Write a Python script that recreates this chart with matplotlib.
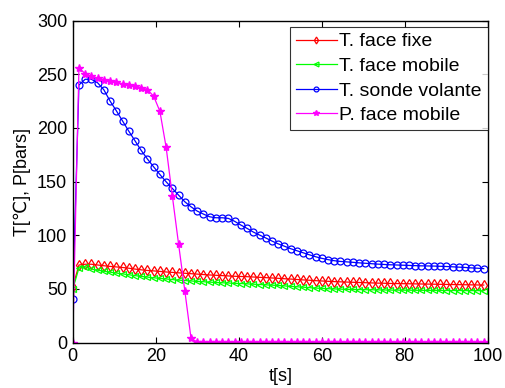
import numpy as np
import matplotlib
matplotlib.use("Agg")
import matplotlib.pyplot as plt

plt.rcParams["font.family"] = ["Liberation Sans", "DejaVu Sans"]

# ------------------------------------------
# Data (sampled every 1.5 s)
# ------------------------------------------

t = np.arange(0, 99.1, 1.5)

t_face_fixe = [
    51.5, 72.3, 73.0, 73.0, 72.3, 71.6, 71.0, 70.5, 70.0, 69.3,
    68.5, 67.8, 67.2, 66.8, 66.3, 65.8, 65.4, 65.0, 64.6, 64.2,
    63.8, 63.4, 63.0, 62.7, 62.4, 62.1, 61.8, 61.6, 61.4, 61.1,
    60.8, 60.5, 60.2, 59.9, 59.5, 59.2, 58.8, 58.4, 58.1, 57.7,
    57.4, 57.1, 56.8, 56.6, 56.4, 56.2, 56.0, 55.8, 55.6, 55.4,
    55.3, 55.1, 55.0, 54.9, 54.8, 54.7, 54.6, 54.5, 54.4, 54.3,
    54.2, 54.1, 54.0, 53.9, 53.8, 53.7, 53.6,
]

t_face_mobile = [
    49.5, 69.5, 70.5, 68.5, 67.5, 66.5, 65.6, 64.8, 64.0, 63.2,
    62.4, 61.7, 61.0, 60.4, 59.8, 59.3, 58.7, 58.2, 57.8, 57.4,
    57.0, 56.7, 56.3, 56.0, 55.7, 55.5, 55.2, 55.0, 54.7, 54.4,
    54.1, 53.8, 53.5, 53.2, 52.8, 52.4, 52.0, 51.6, 51.2, 50.8,
    50.5, 50.2, 50.0, 49.8, 49.6, 49.5, 49.4, 49.3, 49.2, 49.1,
    49.0, 48.9, 48.9, 48.8, 48.8, 48.7, 48.7, 48.6, 48.6, 48.6,
    48.5, 48.5, 48.5, 48.4, 48.4, 48.4, 48.3,
]

t_sonde_volante = [
    41.0, 240.0, 245.3, 245.3, 242.0, 235.5, 225.0, 216.0, 206.5, 197.0,
    188.0, 179.0, 171.0, 163.7, 156.6, 149.8, 143.6, 137.4, 131.2, 126.5,
    122.5, 119.7, 117.2, 116.3, 116.3, 115.7, 113.0, 109.5, 106.4, 103.0,
    100.2, 97.5, 94.6, 92.0, 89.8, 87.5, 85.6, 83.7, 81.8, 80.0,
    78.5, 77.3, 76.3, 75.6, 75.2, 74.8, 74.3, 73.9, 73.5, 73.1,
    72.8, 72.5, 72.3, 72.1, 71.9, 71.7, 71.5, 71.4, 71.3, 71.1,
    70.9, 70.6, 70.3, 70.0, 69.6, 69.3, 68.9,
]

p_face_mobile = [
    0.0, 256.0, 250.5, 248.0, 246.5, 245.0, 243.7, 242.8, 241.0, 240.0,
    239.0, 237.6, 235.7, 229.5, 215.5, 182.0, 136.5, 91.8, 48.4, 4.0,
    0.5, 0.5, 0.5, 0.5, 0.5, 0.5, 0.5, 0.5, 0.5, 0.5,
    0.5, 0.5, 0.5, 0.5, 0.5, 0.5, 0.5, 0.5, 0.5, 0.5,
    0.5, 0.5, 0.5, 0.5, 0.5, 0.5, 0.5, 0.5, 0.5, 0.5,
    0.5, 0.5, 0.5, 0.5, 0.5, 0.5, 0.5, 0.5, 0.5, 0.5,
    0.5, 0.5, 0.5, 0.5, 0.5, 0.5, 0.5,
]

# ------------------------------------------
# Graph
# ------------------------------------------

fig = plt.figure(figsize=(5.05, 3.88), dpi=100)
ax = fig.add_axes([0.144, 0.117, 0.822, 0.830])

ax.plot(t, t_face_fixe, color="red", marker="d", markersize=5,
        markerfacecolor="none", markeredgewidth=0.9, linewidth=0.9,
        label="T. face fixe")
ax.plot(t, t_face_mobile, color="lime", marker="<", markersize=5,
        markerfacecolor="none", markeredgewidth=0.9, linewidth=0.9,
        label="T. face mobile")
ax.plot(t, t_sonde_volante, color="blue", marker="o", markersize=5,
        markerfacecolor="none", markeredgewidth=0.9, linewidth=0.9,
        label="T. sonde volante")
ax.plot(t, p_face_mobile, color="magenta", marker="*", markersize=6,
        linewidth=0.9, label="P. face mobile")

ax.set_xlim(0, 100)
ax.set_ylim(0, 300)
ax.set_xticks([0, 20, 40, 60, 80, 100])
ax.set_yticks([0, 50, 100, 150, 200, 250, 300])

ax.tick_params(direction="in", top=True, right=True, length=4,
               labelsize=13, pad=4)
for s in ax.spines.values():
    s.set_linewidth(1.0)

ax.set_xlabel("t[s]", fontsize=13, labelpad=2)
ax.set_ylabel("T[℃], P[bars]", fontsize=13, labelpad=4)

leg = ax.legend(loc="upper right", bbox_to_anchor=(1.0, 0.98),
                borderaxespad=0, fontsize=14, frameon=True, fancybox=False,
                edgecolor="black", borderpad=0.3, labelspacing=0.36,
                handlelength=2.1, handletextpad=0.15, markerscale=0.7)
leg.get_frame().set_linewidth(0.8)

fig.savefig("out.png", dpi=100)
